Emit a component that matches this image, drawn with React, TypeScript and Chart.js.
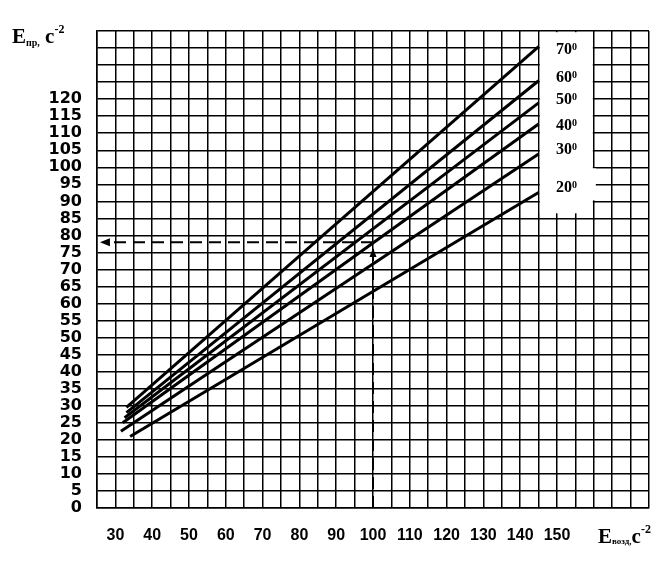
import React, { useEffect, useRef } from 'react';
import { Chart, registerables } from 'chart.js';

Chart.register(...registerables);

// ---- data ----
const angleLabels = ['70', '60', '50', '40', '30', '20'];
const xStart = [33, 33, 32.5, 32, 31.5, 34];
const yStart = [29.5, 28, 26.5, 25, 22.5, 21];
const xEnd = [145, 145, 145, 145, 145, 145];
const yEnd = [135.4, 125.4, 118.9, 112.7, 103.9, 92.6];
const labelY = [134.9, 126.5, 120.2, 112.4, 105.6, 94.3];
const labelX = 150;

const xTickLabels = [30, 40, 50, 60, 70, 80, 90, 100, 110, 120, 130, 140, 150];
const yLabelMax = 120;

// reading example (dashed)
const readX = 100;
const readY = 78;
const readArrowX = 25.8;
const readLineStartX = 29.3;
const readArrowUpY = 76.3;

// label box region (value space)
const boxXRange = [145, 160];
const boxYRange = [86.5, 140];
const boxGapY = [90, 100];

type Part = { t: string; size: number; dy: number };

function drawRich(ctx: CanvasRenderingContext2D, x: number, y: number, parts: Part[]) {
  let cx = x;
  for (const p of parts) {
    ctx.font = `bold ${p.size}px "Liberation Serif", serif`;
    ctx.fillText(p.t, cx, y + p.dy);
    cx += ctx.measureText(p.t).width;
  }
}

const overlayPlugin = {
  id: 'overlay',
  beforeDatasetsDraw(chart: any) {
    const { ctx, scales } = chart;
    const xs = scales.x, ys = scales.y;
    ctx.save();
    ctx.fillStyle = '#fff';
    const x0 = xs.getPixelForValue(boxXRange[0]) + 1.2;
    const x1 = xs.getPixelForValue(boxXRange[1]) - 1;
    const y0 = ys.getPixelForValue(boxYRange[1]) + 1.2;
    const y1 = ys.getPixelForValue(boxYRange[0]);
    ctx.fillRect(x0, y0, x1 - x0, y1 - y0);
    const gx = xs.getPixelForValue(boxXRange[1]);
    const gy0 = ys.getPixelForValue(boxGapY[1]) + 1;
    const gy1 = ys.getPixelForValue(boxGapY[0]) - 1;
    ctx.fillRect(gx - 2, gy0, 4, gy1 - gy0);
    ctx.restore();
  },
  afterDatasetsDraw(chart: any) {
    const { ctx, scales } = chart;
    const xs = scales.x, ys = scales.y;
    ctx.save();
    ctx.fillStyle = '#000';
    // left arrow head
    const ax = xs.getPixelForValue(readArrowX);
    const ay = ys.getPixelForValue(readY);
    ctx.beginPath();
    ctx.moveTo(ax, ay);
    ctx.lineTo(ax + 10, ay - 4);
    ctx.lineTo(ax + 10, ay + 4);
    ctx.closePath();
    ctx.fill();
    // up arrow head
    const ux = xs.getPixelForValue(readX);
    const uy = ys.getPixelForValue(readArrowUpY);
    ctx.beginPath();
    ctx.moveTo(ux, uy);
    ctx.lineTo(ux - 3.5, uy + 9);
    ctx.lineTo(ux + 3.5, uy + 9);
    ctx.closePath();
    ctx.fill();

    // angle labels
    ctx.textBaseline = 'alphabetic';
    ctx.textAlign = 'left';
    angleLabels.forEach((lab, i) => {
      const px = xs.getPixelForValue(labelX) - 1;
      const py = ys.getPixelForValue(labelY[i]) + 5.3;
      drawRich(ctx, px, py, [
        { t: lab, size: 16, dy: 0 },
        { t: '0', size: 10, dy: -4 },
      ]);
    });

    // axis titles
    drawRich(ctx, 12, 43, [
      { t: 'E', size: 21, dy: 0 },
      { t: 'пр,', size: 10, dy: 3 },
      { t: ' c', size: 21, dy: 0 },
      { t: '-2', size: 12, dy: -10 },
    ]);
    drawRich(ctx, 598, 543, [
      { t: 'E', size: 21, dy: 0 },
      { t: 'возд,', size: 9, dy: 1 },
      { t: 'c', size: 21, dy: 0 },
      { t: '-2', size: 12, dy: -10 },
    ]);
    ctx.restore();
  },
};

export default function App() {
  const ref = useRef<HTMLCanvasElement | null>(null);
  useEffect(() => {
    if (!ref.current) return;
    const datasets: any[] = angleLabels.map((lab, i) => ({
      label: lab + '°',
      data: [
        { x: xStart[i], y: yStart[i] },
        { x: xEnd[i], y: yEnd[i] },
      ],
      borderColor: '#000',
      borderWidth: 3,
      pointRadius: 0,
      showLine: true,
      fill: false,
    }));
    datasets.push({
      label: 'h',
      data: [
        { x: readX, y: readY },
        { x: readLineStartX, y: readY },
      ],
      borderColor: '#000',
      borderWidth: 2,
      borderDash: [12, 7],
      pointRadius: 0,
      showLine: true,
    });
    datasets.push({
      label: 'v',
      data: [
        { x: readX, y: 0 },
        { x: readX, y: readY },
      ],
      borderColor: '#000',
      borderWidth: 2,
      borderDash: [12, 7],
      pointRadius: 0,
      showLine: true,
    });
    const chart = new Chart(ref.current, {
      type: 'scatter',
      data: { datasets },
      options: {
        responsive: false,
        animation: false,
        layout: { padding: { top: 31, right: 15, left: 0, bottom: 0 } },
        plugins: { legend: { display: false }, tooltip: { enabled: false } },
        scales: {
          x: {
            type: 'linear',
            min: 25,
            max: 175,
            afterFit: (s: any) => { s.height = 55; },
            ticks: {
              stepSize: 5,
              autoSkip: false,
              maxRotation: 0,
              padding: 18,
              color: '#000',
              font: { family: '"Liberation Sans", Arial, sans-serif', weight: 'bold', size: 16 },
              callback: (v: any) => (xTickLabels.includes(Number(v)) ? String(v) : ''),
            },
            grid: { color: '#000', lineWidth: 1.5, drawTicks: false },
            border: { color: '#000', width: 1.5 },
          },
          y: {
            type: 'linear',
            min: 0,
            max: 140,
            afterFit: (s: any) => { s.width = 97; },
            ticks: {
              stepSize: 5,
              autoSkip: false,
              padding: 15,
              color: '#000',
              font: { family: '"DejaVu Sans", sans-serif', weight: 'bold', size: 16 },
              callback: (v: any) => (Number(v) <= yLabelMax ? String(v) : ''),
            },
            grid: { color: '#000', lineWidth: 1.5, drawTicks: false },
            border: { color: '#000', width: 1.5 },
          },
        },
      },
      plugins: [overlayPlugin],
    } as any);
    return () => chart.destroy();
  }, []);
  return (
    <div style={{ position: 'absolute', left: 0, top: 0, width: 667, height: 563, background: '#fff' }}>
      <canvas ref={ref} width={667} height={563} style={{ display: 'block' }} />
    </div>
  );
}
